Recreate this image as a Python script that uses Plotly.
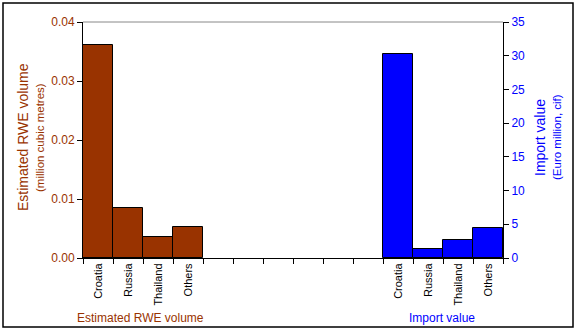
import plotly.graph_objects as go

# ---- data ----
countries = ["Croatia", "Russia", "Thailand", "Others"]
rwe_volume = [0.0361, 0.0084, 0.0036, 0.0052]          # million cubic metres
import_value = [30.3, 1.3, 2.7, 4.4]                    # Euro million, cif
gap_slots = 6                                           # empty category slots between groups
left_ticks = [0.00, 0.01, 0.02, 0.03, 0.04]
right_ticks = [0, 5, 10, 15, 20, 25, 30, 35]

BROWN = "#993300"
BLUE = "#0000FF"
FONT = "Liberation Sans, Arial, sans-serif"

W, H = 577, 332
L, R, T, B = 83, 74, 22, 74
n_slots = 2 * len(countries) + gap_slots
x_vol = list(range(len(countries)))
x_imp = [len(countries) + gap_slots + i for i in range(len(countries))]

fig = go.Figure()
fig.add_trace(go.Bar(x=x_vol, y=rwe_volume, width=1, marker=dict(color=BROWN, line=dict(color="black", width=1)),
                     yaxis="y", showlegend=False))
fig.add_trace(go.Bar(x=x_imp, y=import_value, width=1, marker=dict(color=BLUE, line=dict(color="black", width=1)),
                     yaxis="y2", showlegend=False))

pw = W - L - R
ph = H - T - B
def px_x(p):
    return (p - L) / pw
def px_y(p):
    return (H - B - p) / ph

fig.update_layout(
    width=W, height=H,
    margin=dict(l=L, r=R, t=T, b=B),
    paper_bgcolor="white", plot_bgcolor="white",
    font=dict(family=FONT, size=11, color="black"),
    bargap=0,
    xaxis=dict(range=[-0.5, n_slots - 0.5], tickvals=x_vol + x_imp, ticktext=countries + countries,
               tickangle=-90, ticks="", ticklen=0, showgrid=False, zeroline=False,
               showline=True, linecolor="black", linewidth=1,
               tickfont=dict(size=11, color="black"),
               minor=dict(ticks="outside", ticklen=5, tickcolor="black", tick0=-0.5, dtick=1, showgrid=False)),
    yaxis=dict(range=[0, 0.04], tickvals=left_ticks, tickformat=".2f", ticks="outside", ticklen=5,
               tickcolor="black", showline=True, linecolor="black", linewidth=1, showgrid=False,
               zeroline=False, tickfont=dict(size=12, color=BROWN)),
    yaxis2=dict(range=[0, 35], tickvals=right_ticks, overlaying="y", side="right", ticks="outside",
                ticklen=5, tickcolor="black", showline=True, linecolor="black", linewidth=1,
                showgrid=False, zeroline=False, tickfont=dict(size=12, color=BLUE)),
)

# top gray border of plot area
fig.add_shape(type="line", xref="paper", yref="paper", x0=0, x1=1, y0=1, y1=1,
              line=dict(color="#888888", width=1))
# outer frame
fig.add_shape(type="rect", xref="paper", yref="paper",
              x0=px_x(3), x1=px_x(573), y0=px_y(327), y1=px_y(3),
              line=dict(color="black", width=1.5), fillcolor="rgba(0,0,0,0)")

def note(x, y, text, size, color, angle=0, xanchor="center"):
    fig.add_annotation(xref="paper", yref="paper", x=px_x(x), y=px_y(y), text=text,
                       textangle=angle, showarrow=False, xanchor=xanchor, yanchor="middle",
                       font=dict(size=size, color=color))

# axis titles
note(23, 137, "Estimated RWE volume", 14, BROWN, -90)
note(40, 138, "(million cubic metres)", 11.5, BROWN, -90)
note(540, 138, "Import value", 14, BLUE, -90)
note(557, 137, "(Euro million, cif)", 11.5, BLUE, -90)
# group labels under x axis
note(75, 318, "Estimated RWE volume", 12, BROWN, 0, "left")
note(442, 318, "Import value", 12, BLUE)

fig.write_html("out.html")
